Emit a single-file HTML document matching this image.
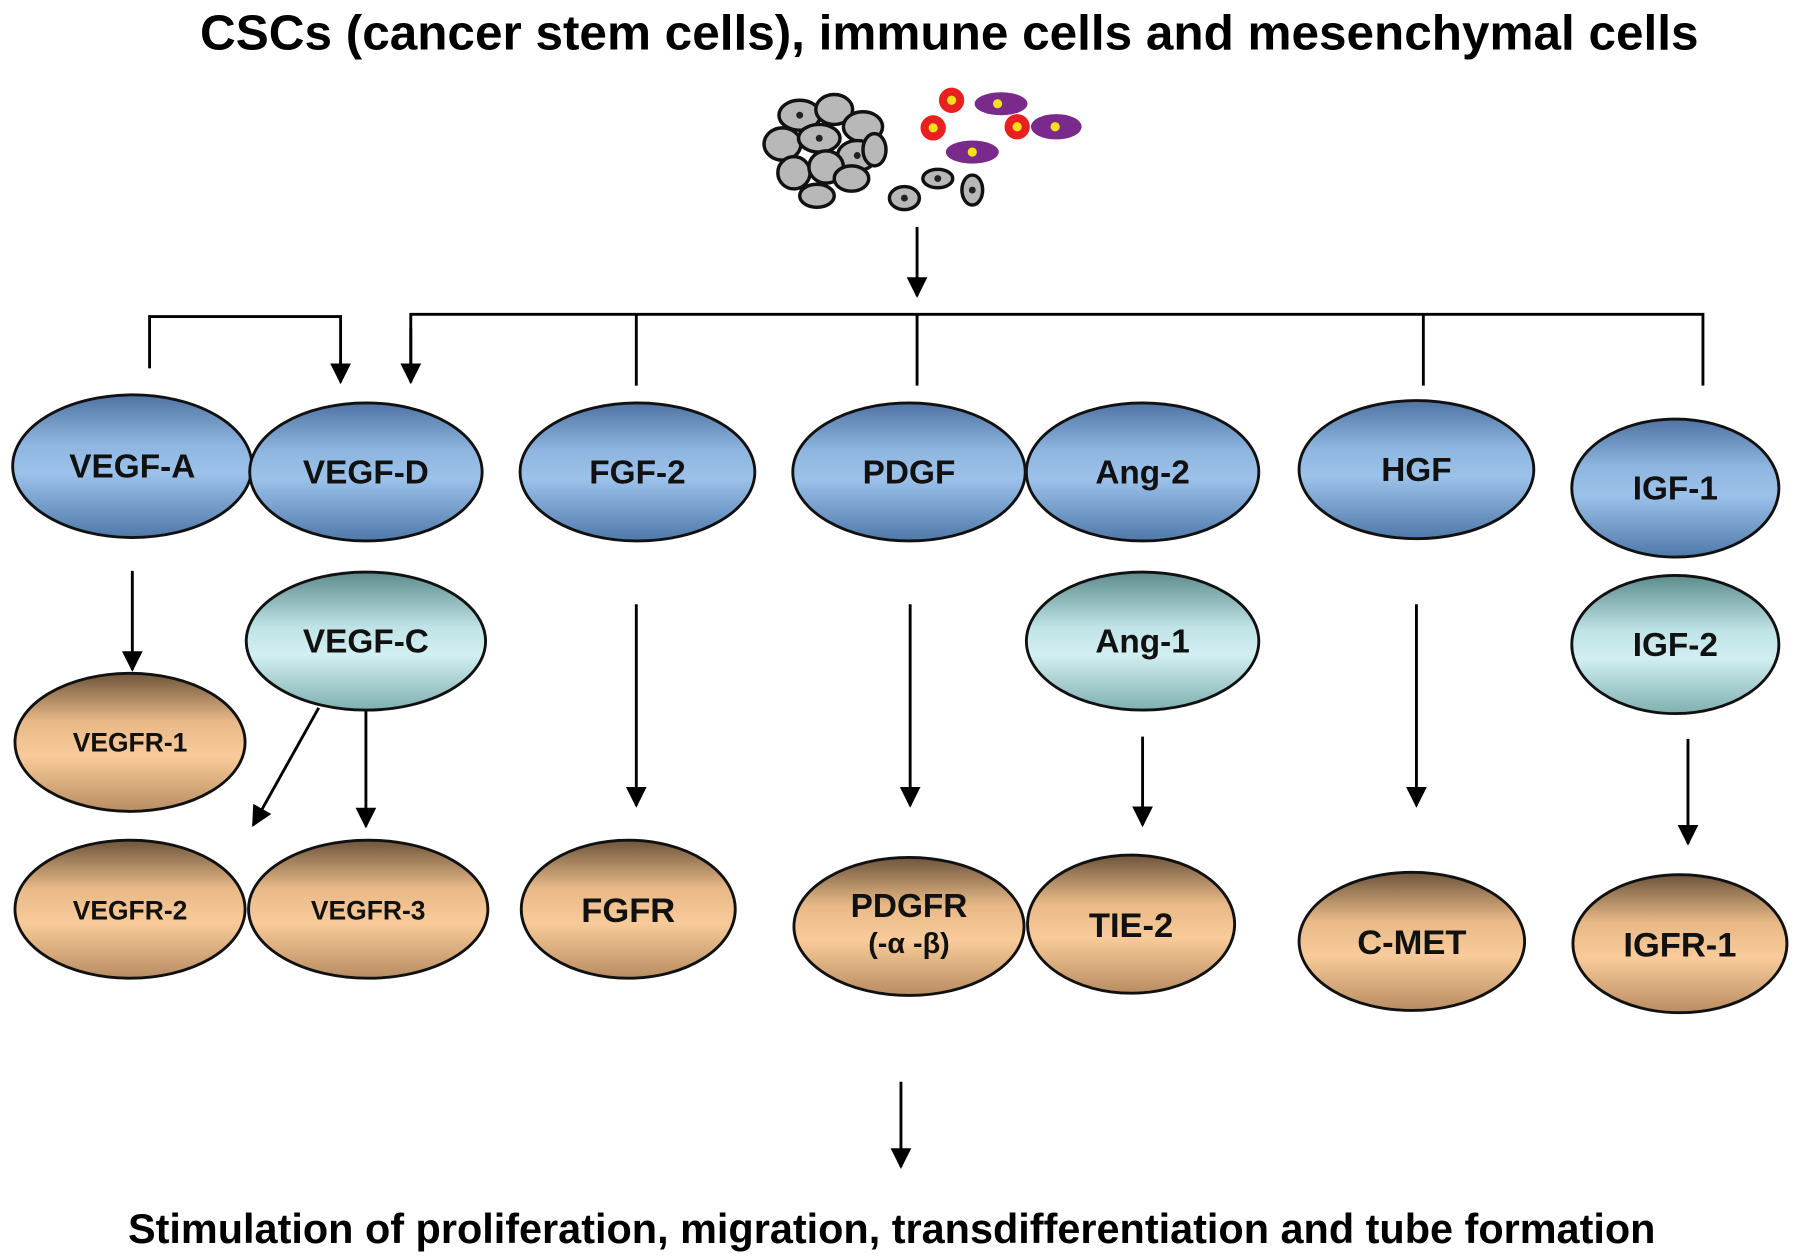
<!DOCTYPE html>
<html><head><meta charset="utf-8"><style>
html,body{margin:0;padding:0;background:#fff;}
svg{display:block;}
text{font-family:"Liberation Sans",Arial,sans-serif;font-weight:bold;}
</style></head><body>
<svg width="1795" height="1258" viewBox="0 0 1560 1093" xmlns="http://www.w3.org/2000/svg">
<defs>
<linearGradient id="gb" x1="0" y1="0" x2="0" y2="1">
<stop offset="0" stop-color="#4f74a4"/><stop offset="0.35" stop-color="#8fb6e0"/><stop offset="0.55" stop-color="#9cc2ea"/><stop offset="1" stop-color="#4f79ab"/></linearGradient>
<linearGradient id="gt" x1="0" y1="0" x2="0" y2="1">
<stop offset="0" stop-color="#5d8c8c"/><stop offset="0.4" stop-color="#bfe3e6"/><stop offset="0.6" stop-color="#d2eff2"/><stop offset="1" stop-color="#7fb0b0"/></linearGradient>
<linearGradient id="gr" x1="0" y1="0" x2="0" y2="1">
<stop offset="0" stop-color="#6e553b"/><stop offset="0.35" stop-color="#e8b987"/><stop offset="0.6" stop-color="#f9cb9a"/><stop offset="1" stop-color="#b88d62"/></linearGradient>
<marker id="ah" viewBox="0 0 10 10" refX="9" refY="5" markerWidth="22" markerHeight="18" markerUnits="userSpaceOnUse" orient="auto"><path d="M0,0 L10,5 L0,10 z" fill="#000"/></marker>
</defs>
<text x="825" y="43" font-size="43" text-anchor="middle">CSCs (cancer stem cells), immune cells and mesenchymal cells</text>

<g stroke="#111" stroke-width="3" fill="#b8b8b8">
<ellipse cx="695" cy="100" rx="18" ry="13"/><ellipse cx="725" cy="95" rx="16" ry="13"/><ellipse cx="750" cy="110" rx="17" ry="13"/>
<ellipse cx="680" cy="125" rx="16" ry="14"/><ellipse cx="712" cy="120" rx="18" ry="12"/><ellipse cx="745" cy="135" rx="17" ry="13"/>
<ellipse cx="690" cy="150" rx="14" ry="14"/><ellipse cx="718" cy="145" rx="15" ry="14"/><ellipse cx="740" cy="155" rx="15" ry="11"/>
<ellipse cx="710" cy="170" rx="15" ry="10"/><ellipse cx="760" cy="130" rx="10" ry="14"/>
<ellipse cx="786" cy="172" rx="13" ry="10"/><ellipse cx="815" cy="155" rx="13" ry="8"/><ellipse cx="845" cy="165" rx="9" ry="13"/>
</g>
<g fill="#222"><circle cx="786" cy="172" r="3"/><circle cx="815" cy="155" r="3"/><circle cx="845" cy="165" r="3"/><circle cx="712" cy="120" r="3"/><circle cx="695" cy="100" r="3"/><circle cx="745" cy="135" r="3"/></g>
<g fill="#7a2a8a"><ellipse cx="870" cy="90" rx="23" ry="10"/><ellipse cx="918" cy="110" rx="22" ry="11"/><ellipse cx="845" cy="132" rx="23" ry="10"/></g>
<g fill="#e82020"><circle cx="827" cy="87" r="11"/><circle cx="811" cy="111" r="11"/><circle cx="884" cy="110" r="11"/></g>
<g fill="#f5e020"><circle cx="867" cy="90" r="4"/><circle cx="917" cy="110" r="4"/><circle cx="845" cy="132" r="4"/><circle cx="827" cy="87" r="4"/><circle cx="811" cy="111" r="4"/><circle cx="884" cy="110" r="4"/></g>

<g stroke="#000" stroke-width="2.5" fill="none">
<line x1="797" y1="197" x2="797" y2="257" marker-end="url(#ah)"/>
<polyline points="130,320 130,275 296,275 296,332" marker-end="url(#ah)"/>
<polyline points="357,332 357,273 1480,273 1480,335"/>
<line x1="357" y1="285" x2="357" y2="332" marker-end="url(#ah)"/>
<line x1="553" y1="273" x2="553" y2="335"/>
<line x1="797" y1="273" x2="797" y2="335"/>
<line x1="1237" y1="273" x2="1237" y2="335"/>
<line x1="115" y1="496" x2="115" y2="582" marker-end="url(#ah)"/>
<line x1="553" y1="525" x2="553" y2="700" marker-end="url(#ah)"/>
<line x1="791" y1="525" x2="791" y2="700" marker-end="url(#ah)"/>
<line x1="993" y1="640" x2="993" y2="717" marker-end="url(#ah)"/>
<line x1="1231" y1="525" x2="1231" y2="700" marker-end="url(#ah)"/>
<line x1="1467" y1="642" x2="1467" y2="733" marker-end="url(#ah)"/>
<line x1="318" y1="615" x2="318" y2="718" marker-end="url(#ah)"/>
<line x1="277" y1="615" x2="220" y2="717" marker-end="url(#ah)"/>
<line x1="783" y1="940" x2="783" y2="1014" marker-end="url(#ah)"/>
</g>

<g stroke="#111" stroke-width="2.5">
<ellipse cx="115" cy="405" rx="104" ry="62" fill="url(#gb)"/>
<ellipse cx="318" cy="410" rx="101" ry="60" fill="url(#gb)"/>
<ellipse cx="554" cy="410" rx="102" ry="60" fill="url(#gb)"/>
<ellipse cx="790" cy="410" rx="101" ry="60" fill="url(#gb)"/>
<ellipse cx="993" cy="410" rx="101" ry="60" fill="url(#gb)"/>
<ellipse cx="1231" cy="408" rx="102" ry="60" fill="url(#gb)"/>
<ellipse cx="1456" cy="424" rx="90" ry="60" fill="url(#gb)"/>
<ellipse cx="318" cy="557" rx="104" ry="60" fill="url(#gt)"/>
<ellipse cx="993" cy="557" rx="101" ry="60" fill="url(#gt)"/>
<ellipse cx="1456" cy="560" rx="90" ry="60" fill="url(#gt)"/>
<ellipse cx="113" cy="645" rx="100" ry="60" fill="url(#gr)"/>
<ellipse cx="113" cy="790" rx="100" ry="60" fill="url(#gr)"/>
<ellipse cx="320" cy="790" rx="104" ry="60" fill="url(#gr)"/>
<ellipse cx="546" cy="790" rx="93" ry="60" fill="url(#gr)"/>
<ellipse cx="790" cy="805" rx="100" ry="60" fill="url(#gr)"/>
<ellipse cx="983" cy="803" rx="90" ry="60" fill="url(#gr)"/>
<ellipse cx="1227" cy="818" rx="98" ry="60" fill="url(#gr)"/>
<ellipse cx="1460" cy="820" rx="93" ry="60" fill="url(#gr)"/>
</g>

<g font-size="29" text-anchor="middle" fill="#111">
<text x="115" y="415">VEGF-A</text>
<text x="318" y="420">VEGF-D</text>
<text x="554" y="420">FGF-2</text>
<text x="790" y="420">PDGF</text>
<text x="993" y="420">Ang-2</text>
<text x="1231" y="418">HGF</text>
<text x="1456" y="434">IGF-1</text>
<text x="318" y="567">VEGF-C</text>
<text x="993" y="567">Ang-1</text>
<text x="1456" y="570">IGF-2</text>
<text x="113" y="653" font-size="23">VEGFR-1</text>
<text x="113" y="799" font-size="23">VEGFR-2</text>
<text x="320" y="799" font-size="23">VEGFR-3</text>
<text x="546" y="801" font-size="30">FGFR</text>
<text x="790" y="797" font-size="29">PDGFR</text>
<text x="790" y="828" font-size="25">(-α -β)</text>
<text x="983" y="814" font-size="30">TIE-2</text>
<text x="1227" y="829" font-size="30">C-MET</text>
<text x="1460" y="831" font-size="30">IGFR-1</text>
</g>

<text x="775" y="1080" font-size="36" text-anchor="middle">Stimulation of proliferation, migration, transdifferentiation and tube formation</text>
</svg>
</body></html>
